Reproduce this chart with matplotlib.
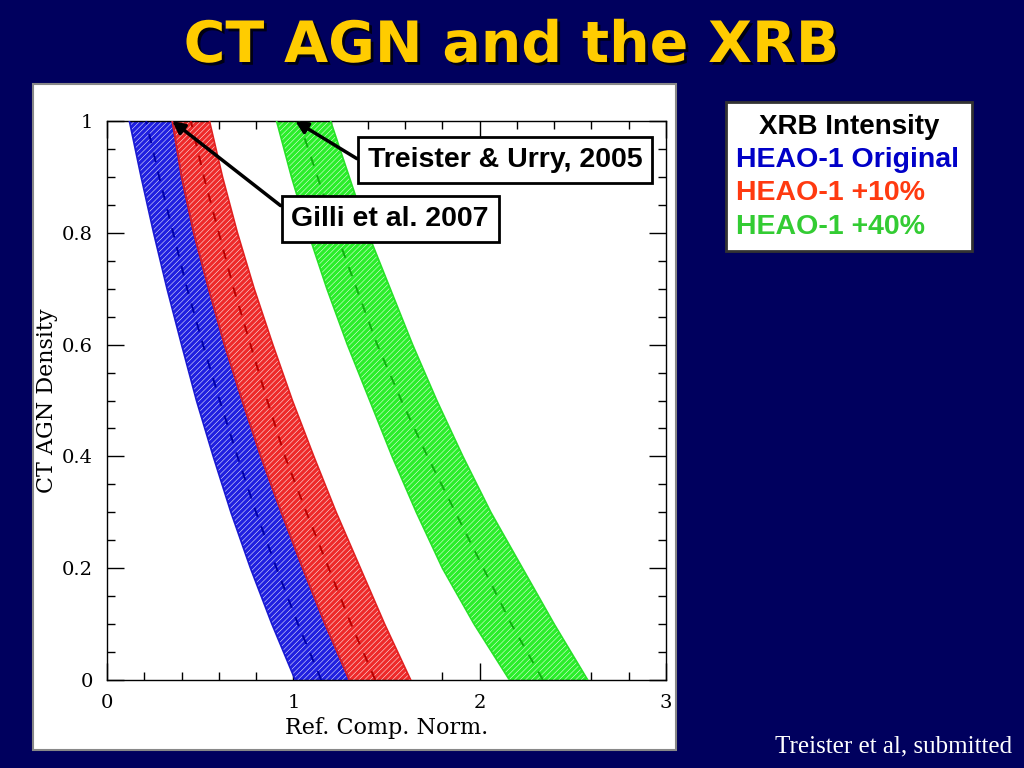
"""CT AGN density vs reflection component normalisation, slide recreation"""

import matplotlib
matplotlib.use('Agg')
import matplotlib.pyplot as plt
import matplotlib.patheffects as pe
from matplotlib.ticker import MultipleLocator

# == data ==
density = [0.0, 0.1, 0.2, 0.3, 0.4, 0.5, 0.6, 0.7, 0.8, 0.9, 1.0]

blue_lo = [1.01, 0.885, 0.77, 0.665, 0.57, 0.48, 0.40, 0.322, 0.25, 0.183, 0.12]
blue_mid = [1.15, 1.025, 0.91, 0.80, 0.70, 0.605, 0.515, 0.43, 0.355, 0.28, 0.21]
blue_hi = [1.30, 1.17, 1.05, 0.935, 0.825, 0.725, 0.63, 0.545, 0.465, 0.40, 0.35]

red_lo = blue_hi
red_mid = [1.44, 1.31, 1.19, 1.07, 0.955, 0.86, 0.77, 0.68, 0.60, 0.52, 0.45]
red_hi = [1.63, 1.49, 1.36, 1.23, 1.11, 0.995, 0.89, 0.79, 0.70, 0.62, 0.55]

green_lo = [2.16, 1.97, 1.80, 1.66, 1.53, 1.41, 1.29, 1.18, 1.08, 0.99, 0.91]
green_mid = [2.34, 2.17, 2.02, 1.87, 1.72, 1.58, 1.45, 1.34, 1.23, 1.13, 1.03]
green_hi = [2.58, 2.40, 2.23, 2.06, 1.91, 1.77, 1.64, 1.52, 1.40, 1.30, 1.20]

legend_lines = ['HEAO-1 Original', 'HEAO-1 +10%', 'HEAO-1 +40%']
legend_colors = ['#0000c8', '#ff3a10', '#33cc33']

# == figure ==
BG = '#00005e'
fig = plt.figure(figsize=(10.24, 7.68), dpi=100)
fig.patch.set_facecolor(BG)

# white panel behind the plot
panel = plt.Rectangle((33/1024, 18/768), 643/1024, 666/768, transform=fig.transFigure,
                      facecolor='white', edgecolor='#888888', lw=1.5, zorder=-5)
fig.patches.append(panel)

fig.text(0.5, 1 - 62/768, 'CT AGN and the XRB', ha='center', va='baseline', color='#ffcc00',
         fontsize=41, fontweight='bold', family='DejaVu Sans',
         path_effects=[pe.withSimplePatchShadow(offset=(2, -2), shadow_rgbFace='black', alpha=0.8)])

ax = fig.add_axes([107/1024, 88/768, 559/1024, 559/768], zorder=2)
ax.set_facecolor('white')

plt.rcParams['hatch.linewidth'] = 0.35

# band fill, edge colour, dashed centre colour
bands = [(blue_lo, blue_mid, blue_hi, '#2020e0', '#1a1ad0', '#0000a8'),
         (red_lo, red_mid, red_hi, '#ee2a2a', '#e02020', '#b80000'),
         (green_lo, green_mid, green_hi, '#2aee2a', '#28e028', '#10b010')]

for lo, mid, hi, col, edge, dash in bands:
    ax.fill_betweenx(density, lo, hi, facecolor=col, edgecolor='white', hatch='//////', lw=0, zorder=2)
    ax.plot(lo, density, color=edge, lw=1.2, zorder=3)
    ax.plot(hi, density, color=edge, lw=1.2, zorder=3)
    ax.plot(mid, density, color=dash, lw=1.4, ls=(0, (5, 5)), zorder=3)

ax.set_xlim(0, 3)
ax.set_ylim(0, 1)
ax.xaxis.set_minor_locator(MultipleLocator(0.2))
ax.yaxis.set_minor_locator(MultipleLocator(0.05))
ax.tick_params(which='both', direction='in', top=True, right=True, colors='black', labelsize=14)
ax.tick_params(which='major', length=12, width=1)
ax.tick_params(which='minor', length=6, width=1)
ax.tick_params(axis='x', pad=10)
ax.tick_params(axis='y', pad=10)
ax.set_xticks([0, 1, 2, 3])
ax.set_xticklabels(['0', '1', '2', '3'], family='DejaVu Serif')
ax.set_yticks([0, 0.2, 0.4, 0.6, 0.8, 1.0])
ax.set_yticklabels(['0', '0.2', '0.4', '0.6', '0.8', '1'], family='DejaVu Serif')
for s in ax.spines.values():
    s.set_linewidth(1)
ax.set_xlabel('Ref. Comp. Norm.', family='DejaVu Serif', fontsize=16, labelpad=4)
ax.set_ylabel('CT AGN Density', family='DejaVu Serif', fontsize=16, labelpad=3)

# annotations
box = dict(boxstyle='square,pad=0.35', facecolor='white', edgecolor='black', lw=2)
ax.annotate('Treister & Urry, 2005', xy=(1.01, 1.0), xytext=(1.40, 0.93), textcoords='data',
            ha='left', va='center', fontsize=20.5, fontweight='bold', family='Liberation Sans',
            bbox=box, zorder=5,
            arrowprops=dict(arrowstyle='-|>', color='black', lw=2.5, mutation_scale=18,
                            shrinkA=0, shrinkB=0, relpos=(0, 0.3)))
ax.annotate('Gilli et al. 2007', xy=(0.35, 1.0), xytext=(0.99, 0.825), textcoords='data',
            ha='left', va='center', fontsize=20.5, fontweight='bold', family='Liberation Sans',
            bbox=box, zorder=5,
            arrowprops=dict(arrowstyle='-|>', color='black', lw=2.5, mutation_scale=18,
                            shrinkA=0, shrinkB=0, relpos=(0, 0.68)))

# legend panel
leg = plt.Rectangle((726/1024, 1 - 251/768), 246/1024, 149/768, transform=fig.transFigure,
                    facecolor='white', edgecolor='#333333', lw=2)
fig.patches.append(leg)
fig.text(849/1024, 1 - 127/768, 'XRB Intensity', ha='center', va='center', color='black',
         fontsize=20, fontweight='bold', family='Liberation Sans')
for i, (txt, col) in enumerate(zip(legend_lines, legend_colors)):
    fig.text(736/1024, 1 - (160 + 33.5*i)/768, txt, ha='left', va='center', color=col,
             fontsize=20.5, fontweight='bold', family='Liberation Sans')

fig.text(1012/1024, 1 - 746/768, 'Treister et al, submitted', ha='right', va='center',
         color='white', fontsize=18, family='Liberation Serif')

fig.savefig('out.png', dpi=100, facecolor=BG)
